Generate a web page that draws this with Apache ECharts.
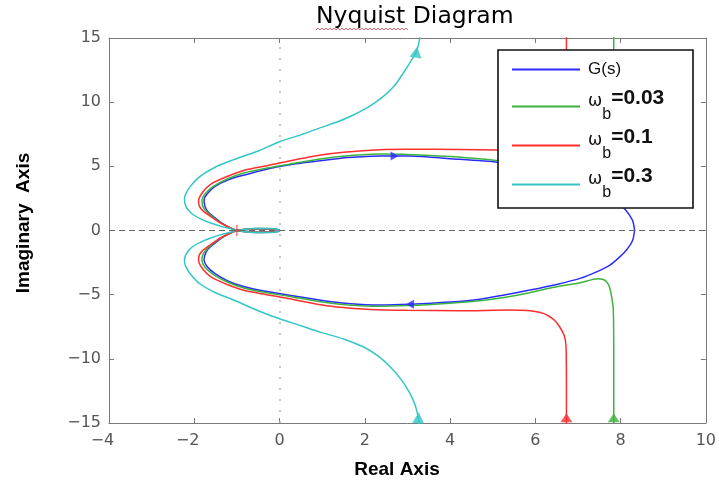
<!DOCTYPE html>
<html><head><meta charset="utf-8">
<script src="https://cdn.jsdelivr.net/npm/echarts@6/dist/echarts.min.js"></script>
<style>html,body{margin:0;padding:0;background:#fff}#c{width:719px;height:483px}</style>
</head><body><div id="c"></div>
<script>
// ---------- data ----------
const seriesNames = ['G(s)', 'ωb=0.03', 'ωb=0.1', 'ωb=0.3'];
const xTicks = [-4, -2, 0, 2, 4, 6, 8, 10];
const yTicks = [-15, -10, -5, 0, 5, 10, 15];

const curveG = [
[8.33,0],[8.28,-0.8],[8.14,-1.52],[7.95,-2.15],[7.75,-2.69],[7.45,-3.2],[7.05,-3.73],[6.5,-4.2],[5.87,-4.64],[5.3,-5.0],[4.7,-5.36],[4.0,-5.58],[3.06,-5.75],[2.35,-5.81],[1.6,-5.68],[1.0,-5.45],[0.2,-5.03],[-0.4,-4.7],[-0.82,-4.38],[-1.2,-3.95],[-1.52,-3.34],[-1.7,-2.8],[-1.77,-2.3],[-1.75,-1.9],[-1.68,-1.47],[-1.52,-1.0],[-1.37,-0.61],[-1.2,-0.28],[-1.0,0],
[-0.8,0.08],[-0.5,0.13],[-0.2,0.12],[-0.03,0.05],[0,0],[-0.03,-0.05],[-0.2,-0.12],[-0.5,-0.13],[-0.8,-0.08],[-1.0,0],
[-1.2,0.28],[-1.37,0.61],[-1.52,1.0],[-1.68,1.47],[-1.75,1.9],[-1.77,2.38],[-1.7,2.85],[-1.52,3.42],[-1.2,3.95],[-0.82,4.33],[-0.4,4.7],[0.2,5.1],[1.0,5.45],[1.6,5.68],[2.35,5.81],[3.06,5.8],[4.0,5.6],[5.12,5.32],[5.87,4.9],[6.6,4.3],[7.3,3.6],[7.8,2.6],[8.1,1.68],[8.28,0.8],[8.33,0]
];
const curveW003 = [
[7.84,-16],[7.84,-10],[7.83,-6.2],[7.79,-5.16],[7.74,-4.4],[7.67,-3.99],[7.58,-3.8],[7.47,-3.76],[7.05,-4.07],[6.4,-4.45],[5.87,-4.85],[5.3,-5.2],[4.7,-5.47],[4.0,-5.66],[3.0,-5.85],[2.35,-5.9],[1.6,-5.8],[1.0,-5.58],[0.2,-5.12],[-0.4,-4.8],[-0.82,-4.5],[-1.2,-4.05],[-1.56,-3.42],[-1.75,-2.85],[-1.82,-2.33],[-1.8,-1.9],[-1.72,-1.5],[-1.56,-1.02],[-1.4,-0.63],[-1.2,-0.28],[-1.0,0],
[-0.8,0.08],[-0.5,0.14],[-0.2,0.13],[-0.03,0.05],[0,0],[-0.03,-0.05],[-0.2,-0.13],[-0.5,-0.14],[-0.8,-0.08],[-1.0,0],
[-1.2,0.28],[-1.4,0.63],[-1.56,1.02],[-1.72,1.5],[-1.8,1.9],[-1.82,2.38],[-1.75,2.85],[-1.56,3.42],[-1.2,4.05],[-0.82,4.5],[-0.4,4.8],[0.2,5.15],[1.0,5.6],[1.6,5.82],[2.35,5.96],[3.0,5.93],[4.0,5.76],[5.12,5.44],[5.87,4.95],[6.4,4.5],[7.05,4.1],[7.47,3.8],[7.58,3.82],[7.67,4.0],[7.74,4.4],[7.79,5.16],[7.83,6.2],[7.84,10],[7.84,16]
];
const curveW01 = [
[6.73,-16],[6.73,-12],[6.72,-9.0],[6.68,-8.2],[6.57,-7.5],[6.45,-7.0],[6.34,-6.72],[6.2,-6.48],[6.03,-6.33],[5.7,-6.22],[5.4,-6.2],[4.23,-6.25],[3.0,-6.22],[2.12,-6.15],[1.5,-6.0],[1.0,-5.8],[0.2,-5.3],[-0.3,-5.0],[-0.82,-4.68],[-1.2,-4.25],[-1.6,-3.64],[-1.8,-3.0],[-1.9,-2.3],[-1.88,-1.9],[-1.8,-1.55],[-1.64,-1.15],[-1.44,-0.69],[-1.25,-0.35],[-1.09,-0.1],[-1.0,0],
[-0.8,0.09],[-0.5,0.15],[-0.2,0.14],[-0.03,0.06],[0,0],[-0.03,-0.06],[-0.2,-0.14],[-0.5,-0.15],[-0.8,-0.09],[-1.0,0],
[-1.09,0.1],[-1.25,0.35],[-1.44,0.69],[-1.64,1.15],[-1.8,1.55],[-1.88,1.9],[-1.9,2.3],[-1.8,3.0],[-1.6,3.64],[-1.2,4.25],[-0.82,4.7],[-0.3,5.05],[0.2,5.4],[1.0,5.9],[1.5,6.1],[2.35,6.3],[3.0,6.33],[4.2,6.32],[5.12,6.27],[5.4,6.25],[5.7,6.26],[6.03,6.36],[6.2,6.5],[6.34,6.72],[6.45,7.0],[6.57,7.5],[6.68,8.2],[6.72,9.0],[6.73,12],[6.73,16]
];
const curveW03 = [
[3.27,-16],[3.27,-15],[3.25,-14.5],[3.18,-13.6],[3.06,-12.7],[2.85,-11.6],[2.59,-10.6],[2.3,-9.75],[1.96,-9.06],[1.5,-8.45],[0.95,-7.92],[0.5,-7.42],[0,-6.88],[-0.5,-6.25],[-1.09,-5.4],[-1.5,-4.85],[-1.87,-4.15],[-2.1,-3.35],[-2.2,-2.8],[-2.23,-2.4],[-2.2,-1.9],[-2.07,-1.34],[-1.85,-0.9],[-1.6,-0.56],[-1.35,-0.3],[-1.13,-0.12],[-1.0,0],
[-0.8,0.1],[-0.5,0.17],[-0.2,0.16],[-0.03,0.07],[0,0],[-0.03,-0.07],[-0.2,-0.16],[-0.5,-0.17],[-0.8,-0.1],[-1.0,0],
[-1.13,0.12],[-1.35,0.3],[-1.6,0.56],[-1.85,0.9],[-2.07,1.34],[-2.2,1.9],[-2.23,2.45],[-2.2,2.85],[-2.1,3.4],[-1.87,4.2],[-1.5,4.95],[-1.09,5.5],[-0.5,6.2],[0,6.92],[0.5,7.45],[0.95,8.0],[1.35,8.45],[1.73,9.0],[2.1,9.65],[2.43,10.43],[2.7,11.3],[2.9,12.25],[3.1,13.3],[3.21,13.94],[3.29,15],[3.3,16]
];

const arrowsG = [[2.7,5.81],[3.06,-5.75]];
const arrowsW003 = [[7.84,-14.6]];
const arrowsW01 = [[6.73,-14.6]];
const arrowsW03 = [[3.21,13.9],[3.26,-14.6]];
const criticalPoint = [[-1,0]];

// ---------- styles ----------
const colors = ['#2b2bff', '#3cb43c', '#ff2e2e', '#33c6c6'];
const curves = [curveG, curveW003, curveW01, curveW03];
const arrows = [arrowsG, arrowsW003, arrowsW01, arrowsW03];
const arrowRot = [[-90, 90], [0], [0], [-8, -3]];
const arrowSize = [[9,8], [12,9], [12,9], [12,11]];

const chart = echarts.init(document.getElementById('c'), null, {renderer: 'canvas'});
const labelFont = 'DejaVu Sans';
const textFont = 'Liberation Sans';
const axisGray = '#7a7a7a';
const labelGray = '#555';

function xAxisCfg(pos, showLabel) {
  return {
    type: 'value', min: -4, max: 10, interval: 2, position: pos,
    axisLine: {show: true, onZero: false, lineStyle: {color: axisGray, width: 1}},
    axisTick: {show: true, inside: true, length: 5, lineStyle: {color: axisGray}},
    splitLine: {show: false},
    axisLabel: {
      show: showLabel, margin: 10, color: labelGray, fontFamily: labelFont, fontSize: 16,
      formatter: v => v < 0 ? '{n|\u2212' + (-v) + '}' : '{p|' + v + '}',
      rich: {
        n: {fontFamily: labelFont, fontSize: 16, color: labelGray, padding: [0, 13, 0, 0]},
        p: {fontFamily: labelFont, fontSize: 16, color: labelGray}
      }
    }
  };
}
function yAxisCfg(pos, showLabel) {
  return {
    type: 'value', min: -15, max: 15, interval: 5, position: pos,
    axisLine: {show: true, onZero: false, lineStyle: {color: axisGray, width: 1}},
    axisTick: {show: true, inside: true, length: 5, lineStyle: {color: axisGray}},
    splitLine: {show: false},
    axisLabel: {
      show: showLabel, margin: 8, color: labelGray, fontFamily: labelFont, fontSize: 16,
      formatter: v => v < 0 ? '\u2212' + (-v) : String(v)
    }
  };
}

const series = [{
  type: 'line', data: [], silent: true, z: 1,
  markLine: {
    silent: true, symbol: 'none', label: {show: false},
    data: [
      {xAxis: 0, lineStyle: {color: '#b5b5b5', type: [2, 9], width: 1.5}},
      {yAxis: 0, lineStyle: {color: '#666', type: [6, 4], width: 1}}
    ]
  }
}];
curves.forEach((c, i) => {
  series.push({
    name: seriesNames[i], type: 'line', data: c, symbol: 'none', smooth: 0.25,
    clip: true, z: 2 + i * 0.01,
    lineStyle: {color: colors[i], width: 1.5}, itemStyle: {color: colors[i]}
  });
});
arrows.forEach((a, i) => {
  series.push({
    type: 'scatter', data: a.map((p, k) => ({value: p, symbolRotate: arrowRot[i][k]})),
    symbol: 'triangle', symbolSize: arrowSize[i], z: 3, silent: true,
    itemStyle: {color: colors[i]}
  });
});
series.push({
  type: 'scatter', data: criticalPoint, z: 4, silent: true,
  symbol: 'path://M5,0 L5,10 M0,5 L10,5', symbolSize: [9, 11],
  itemStyle: {color: 'none', borderColor: '#ff2020', borderWidth: 1.3}
});

// spell-check squiggle under "Nyquist" in the title (decoration)
const squiggle = [];
for (let x = 316, k = 0; x <= 408; x += 2, k++) squiggle.push([x, k % 2 ? 28 : 30]);

const option = {
  backgroundColor: '#fff',
  animation: false,
  title: {
    text: 'Nyquist Diagram', left: 316, top: 5, padding: 0,
    textStyle: {fontFamily: 'DejaVu Sans', fontSize: 23.5, fontWeight: 'normal', color: '#000'}
  },
  grid: {left: 109, right: 13, top: 38, bottom: 60, containLabel: false},
  xAxis: [xAxisCfg('bottom', true), xAxisCfg('top', false)],
  yAxis: [yAxisCfg('left', true), yAxisCfg('right', false)],
  legend: {
    data: seriesNames, orient: 'vertical', left: 512, top: 53, padding: 0,
    icon: 'rect', itemWidth: 68, itemHeight: 2, itemGap: 2, selectedMode: false, z: 20,
    formatter: name => {
      if (name === 'G(s)') return '{g|G(s)}';
      return '{w|ω}{s|b}{e|' + name.slice(2) + '}';
    },
    textStyle: {
      color: '#000',
      rich: {
        g: {fontFamily: textFont, fontSize: 17, color: '#111', lineHeight: 20, padding: [8, 0, 8, 3]},
        w: {fontFamily: 'DejaVu Sans', fontSize: 17, color: '#111', lineHeight: 20, padding: [0, 0, 10, 3]},
        s: {fontFamily: textFont, fontSize: 16, color: '#111', lineHeight: 18, padding: [16, 0, 0, 0]},
        e: {fontFamily: textFont, fontSize: 21, fontWeight: 'bold', color: '#111', lineHeight: 20, padding: [0, 0, 16, 0]}
      }
    }
  },
  graphic: {
    elements: [
      {type: 'rect', z: 10, silent: true,
       shape: {x: 498, y: 50, width: 195, height: 158},
       style: {fill: '#fff', stroke: '#111', lineWidth: 1.6}},
      {type: 'polyline', z: 30, silent: true, shape: {points: squiggle},
       style: {stroke: '#e04040', lineWidth: 0.8, fill: null}},
      {type: 'text', z: 30, silent: true, x: 397, y: 470,
       style: {text: 'Real Axis', fill: '#000', font: 'bold 19px "Liberation Sans"', textAlign: 'center', textVerticalAlign: 'middle'}},
      {type: 'text', z: 30, silent: true, x: 24, y: 223, rotation: Math.PI / 2,
       style: {text: 'Imaginary  Axis', fill: '#000', font: 'bold 19px "Liberation Sans"', textAlign: 'center', textVerticalAlign: 'middle'}}
    ]
  },
  series: series
};
chart.setOption(option);
</script>
</body></html>
